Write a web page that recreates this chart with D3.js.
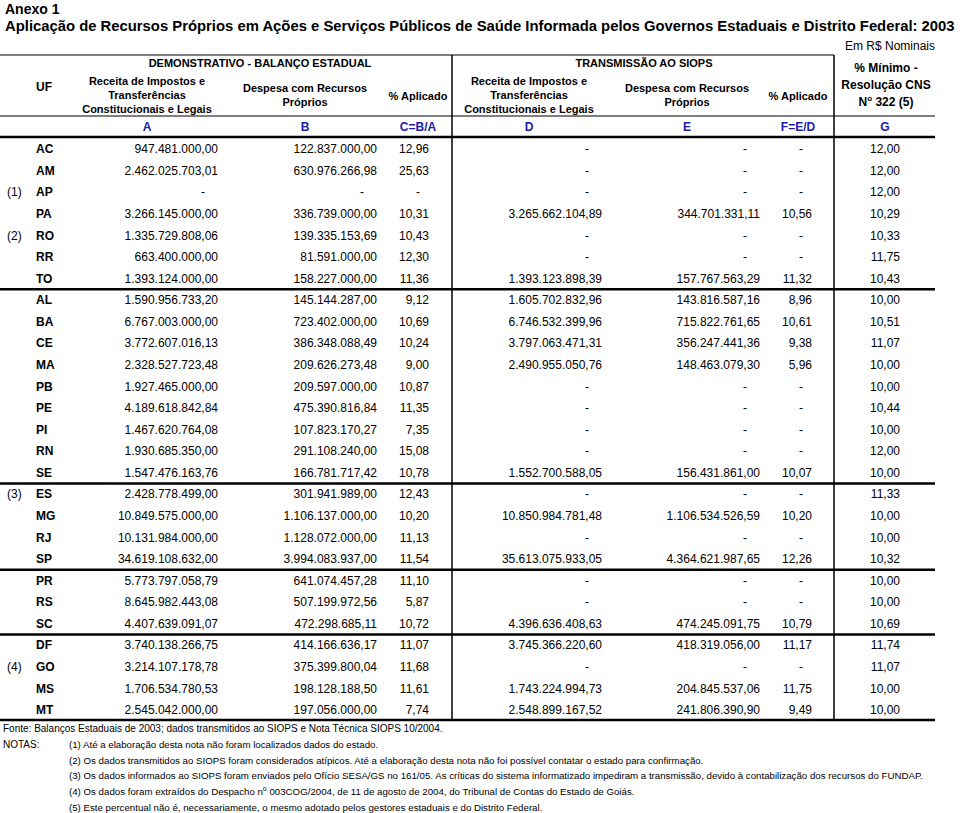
<!DOCTYPE html>
<html><head><meta charset="utf-8">
<script src="https://cdn.jsdelivr.net/npm/d3@7/dist/d3.min.js"></script>
<style>
html,body{margin:0;padding:0;background:#fff;}
svg{display:block;font-family:"Liberation Sans",Arial,Helvetica,sans-serif;}
</style></head>
<body>
<svg id="chart" width="960" height="813"></svg>
<script>
// ---- DATA ----
const uf = ["AC","AM","AP","PA","RO","RR","TO","AL","BA","CE","MA","PB","PE","PI","RN","SE","ES","MG","RJ","SP","PR","RS","SC","DF","GO","MS","MT"];
const ufNotes = {AP:"(1)", RO:"(2)", ES:"(3)", GO:"(4)"};
const groupSizes = [7, 9, 4, 3, 4];
const receitaBalanco = [947481000.00, 2462025703.01, null, 3266145000.00, 1335729808.06, 663400000.00, 1393124000.00, 1590956733.20, 6767003000.00, 3772607016.13, 2328527723.48, 1927465000.00, 4189618842.84, 1467620764.08, 1930685350.00, 1547476163.76, 2428778499.00, 10849575000.00, 10131984000.00, 34619108632.00, 5773797058.79, 8645982443.08, 4407639091.07, 3740138266.75, 3214107178.78, 1706534780.53, 2545042000.00];
const despesaBalanco = [122837000.00, 630976266.98, null, 336739000.00, 139335153.69, 81591000.00, 158227000.00, 145144287.00, 723402000.00, 386348088.49, 209626273.48, 209597000.00, 475390816.84, 107823170.27, 291108240.00, 166781717.42, 301941989.00, 1106137000.00, 1128072000.00, 3994083937.00, 641074457.28, 507199972.56, 472298685.11, 414166636.17, 375399800.04, 198128188.50, 197056000.00];
const pctBalanco = [12.96, 25.63, null, 10.31, 10.43, 12.30, 11.36, 9.12, 10.69, 10.24, 9.00, 10.87, 11.35, 7.35, 15.08, 10.78, 12.43, 10.20, 11.13, 11.54, 11.10, 5.87, 10.72, 11.07, 11.68, 11.61, 7.74];
const receitaSiops = [null, null, null, 3265662104.89, null, null, 1393123898.39, 1605702832.96, 6746532399.96, 3797063471.31, 2490955050.76, null, null, null, null, 1552700588.05, null, 10850984781.48, null, 35613075933.05, null, null, 4396636408.63, 3745366220.60, null, 1743224994.73, 2548899167.52];
const despesaSiops = [null, null, null, 344701331.11, null, null, 157767563.29, 143816587.16, 715822761.65, 356247441.36, 148463079.30, null, null, null, null, 156431861.00, null, 1106534526.59, null, 4364621987.65, null, null, 474245091.75, 418319056.00, null, 204845537.06, 241806390.90];
const pctSiops = [null, null, null, 10.56, null, null, 11.32, 8.96, 10.61, 9.38, 5.96, null, null, null, null, 10.07, null, 10.20, null, 12.26, null, null, 10.79, 11.17, null, 11.75, 9.49];
const pctMinimo = [12.00, 12.00, 12.00, 10.29, 10.33, 11.75, 10.43, 10.00, 10.51, 11.07, 10.00, 10.00, 10.44, 10.00, 12.00, 10.00, 11.33, 10.00, 10.00, 10.32, 10.00, 10.00, 10.69, 11.74, 11.07, 10.00, 10.00];
const columnLetters = ["A","B","C=B/A","D","E","F=E/D","G"];
const titleLines = ["Anexo 1", "Aplicação de Recursos Próprios em Ações e Serviços Públicos de Saúde Informada pelos Governos Estaduais e Distrito Federal: 2003"];
const unitLabel = "Em R$ Nominais";
const groupHeaders = ["DEMONSTRATIVO - BALANÇO ESTADUAL", "TRANSMISSÃO AO SIOPS"];
const receitaHeader = ["Receita de Impostos e", "Transferências", "Constitucionais e Legais"];
const despesaHeader = ["Despesa com Recursos", "Próprios"];
const pctHeader = "% Aplicado";
const minimoHeader = ["% Mínimo -", "Resolução CNS"];
const sourceText = "Fonte: Balanços Estaduais de 2003; dados transmitidos ao SIOPS e Nota Técnica SIOPS 10/2004.";
const notesLabel = "NOTAS:";
const notesText = [
  "(1) Até a elaboração desta nota não foram localizados dados do estado.",
  "(2) Os dados transmitidos ao SIOPS foram considerados atípicos. Até a elaboração desta nota não foi possível contatar o estado para confirmação.",
  "(3) Os dados informados ao SIOPS foram enviados pelo Ofício SESA/GS no 161/05. As críticas do sistema informatizado impediram a transmissão, devido à contabilização dos recursos do FUNDAP.",
  "(4) Os dados foram extraídos do Despacho n|o| 003COG/2004, de 11 de agosto de 2004, do Tribunal de Contas do Estado de Goiás.",
  "(5) Este percentual não é, necessariamente, o mesmo adotado pelos gestores estaduais e do Distrito Federal."
];

// ---- RENDER ----
const svg = d3.select("#chart");
const locale = d3.formatLocale({decimal: ",", thousands: ".", grouping: [3], currency: ["R$ ", ""]});
const fmtMoney = locale.format(",.2f");
const fmtPct = locale.format(".2f");

const y = d3.scaleLinear().domain([0, uf.length - 1]).range([149, 710]);

const columns = [
  {vals: receitaBalanco, right: 218, dash: 205, center: 147, fmt: fmtMoney},
  {vals: despesaBalanco, right: 377, dash: 364, center: 305, fmt: fmtMoney},
  {vals: pctBalanco, right: 429, dash: 420, center: 418, fmt: fmtPct},
  {vals: receitaSiops, right: 602, dash: 589, center: 529, fmt: fmtMoney},
  {vals: despesaSiops, right: 760, dash: 747, center: 687, fmt: fmtMoney},
  {vals: pctSiops, right: 812, dash: 803, center: 798, fmt: fmtPct},
  {vals: pctMinimo, right: 900, dash: 887, center: 885, fmt: fmtPct}
];

// titles
svg.append("text").attr("x", 5).attr("y", 14).attr("font-size", 14).attr("font-weight", "bold").text(titleLines[0]);
const t2 = svg.append("text").attr("x", 5).attr("y", 31).attr("font-size", 14).attr("font-weight", "bold").text(titleLines[1]);
const w = t2.node().getComputedTextLength();
if (w > 0) t2.attr("font-size", 14 * 951 / w);
svg.append("text").attr("x", 935).attr("y", 50).attr("font-size", 12).attr("text-anchor", "end").text(unitLabel);

// header
const hdr = svg.append("g").attr("font-size", 11).attr("font-weight", "bold").attr("text-anchor", "middle");
hdr.append("text").attr("x", 260).attr("y", 67).text(groupHeaders[0]);
hdr.append("text").attr("x", 644).attr("y", 67).text(groupHeaders[1]);
hdr.append("text").attr("x", 36).attr("y", 91).attr("text-anchor", "start").attr("font-size", 12).text("UF");
[0, 3].forEach(ci => {
  receitaHeader.forEach((l, i) => hdr.append("text").attr("x", columns[ci].center).attr("y", 85 + i * 14).text(l));
});
[1, 4].forEach(ci => {
  despesaHeader.forEach((l, i) => hdr.append("text").attr("x", columns[ci].center).attr("y", 92 + i * 14).text(l));
});
[2, 5].forEach(ci => hdr.append("text").attr("x", columns[ci].center).attr("y", 100).text(pctHeader));
hdr.append("text").attr("x", 886).attr("y", 72).attr("font-size", 12).text(minimoHeader[0]);
hdr.append("text").attr("x", 886).attr("y", 89).attr("font-size", 12).text(minimoHeader[1]);
const nr = hdr.append("text").attr("x", 886).attr("y", 106).attr("font-size", 12);
nr.append("tspan").text("N");
nr.append("tspan").attr("font-size", 8).attr("dy", -5).text("o");
nr.append("tspan").attr("dy", 5).text(" 322 (5)");

// letters row
svg.append("g").attr("font-size", 12).attr("font-weight", "bold").attr("fill", "#1c1ca8").attr("text-anchor", "middle")
  .selectAll("text").data(columnLetters).join("text")
  .attr("x", (d, i) => columns[i].center).attr("y", 131).text(d => d);

// rows
const rows = svg.append("g").attr("font-size", 12);
rows.selectAll("text.uf").data(uf).join("text").attr("class", "uf")
  .attr("x", 36).attr("y", (d, i) => y(i)).attr("dy", "0.35em").attr("font-weight", "bold").text(d => d);
rows.selectAll("text.note").data(uf.filter(u => ufNotes[u])).join("text").attr("class", "note")
  .attr("x", 7).attr("y", d => y(uf.indexOf(d))).attr("dy", "0.35em").text(d => ufNotes[d]);
columns.forEach((c, ci) => {
  rows.append("g").attr("text-anchor", "end").selectAll("text").data(c.vals).join("text")
    .attr("x", d => d == null ? c.dash : c.right)
    .attr("y", (d, i) => y(i)).attr("dy", "0.35em")
    .text(d => d == null ? "-" : c.fmt(d));
});

// lines
const lines = svg.append("g").attr("stroke", "#000");
lines.append("line").attr("x1", 0).attr("x2", 834).attr("y1", 55).attr("y2", 55).attr("stroke-width", 1.2);
lines.append("line").attr("x1", 0).attr("x2", 935).attr("y1", 116).attr("y2", 116).attr("stroke-width", 1.2);
lines.append("line").attr("x1", 0).attr("x2", 935).attr("y1", 137).attr("y2", 137).attr("stroke-width", 2.5);
let acc = 0;
groupSizes.forEach(g => {
  acc += g;
  const yy = acc === uf.length ? 720 : (y(acc - 1) + y(acc)) / 2;
  lines.append("line").attr("x1", 0).attr("x2", 935).attr("y1", yy).attr("y2", yy).attr("stroke-width", 2.5);
});
[452, 834].forEach(x => lines.append("line").attr("x1", x).attr("x2", x).attr("y1", 55).attr("y2", 720).attr("stroke-width", 1.5));

// footer
const foot = svg.append("g").attr("font-size", 10);
foot.append("text").attr("x", 3).attr("y", 732).text(sourceText);
foot.append("text").attr("x", 3).attr("y", 748).text(notesLabel);
notesText.forEach((n, i) => {
  const t = foot.append("text").attr("x", 69).attr("y", 748 + i * 15.7).attr("font-size", 9.7);
  const parts = n.split("|");
  if (parts.length === 3) {
    t.append("tspan").text(parts[0]);
    t.append("tspan").attr("font-size", 7).attr("dy", -4).text(parts[1]);
    t.append("tspan").attr("dy", 4).text(parts[2]);
  } else t.text(n);
});
</script>
</body></html>
